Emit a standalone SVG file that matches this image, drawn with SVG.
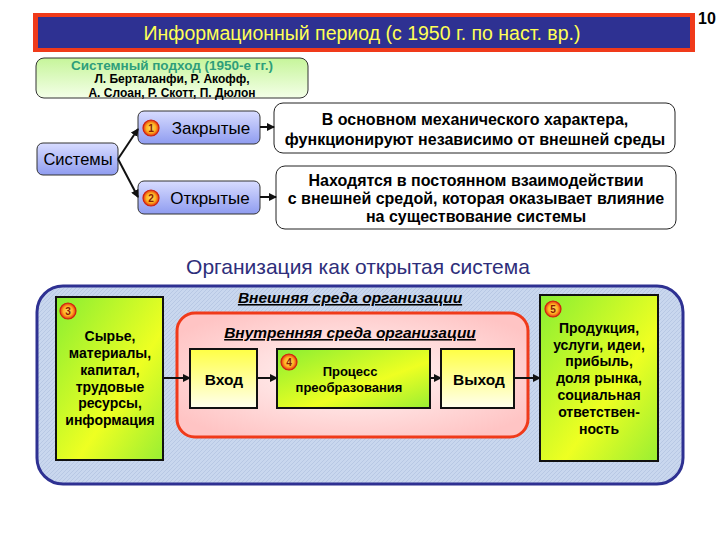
<svg xmlns="http://www.w3.org/2000/svg" width="720" height="540" viewBox="0 0 720 540">
<defs>
<linearGradient id="gGreenTop" x1="0" y1="0" x2="0" y2="1"><stop offset="0" stop-color="#C6F59A"/><stop offset="1" stop-color="#F4FFE8"/></linearGradient>
<linearGradient id="gBlue" x1="0" y1="0" x2="0" y2="1"><stop offset="0" stop-color="#D8DCFF"/><stop offset="1" stop-color="#8F9CF0"/></linearGradient>
<linearGradient id="gYW" x1="0" y1="0" x2="0" y2="1"><stop offset="0" stop-color="#FFFF44"/><stop offset="1" stop-color="#FFFFEE"/></linearGradient>
<linearGradient id="gGYh" x1="0" y1="0" x2="1" y2="1"><stop offset="0" stop-color="#88EE33"/><stop offset="0.6" stop-color="#EEFF22"/><stop offset="1" stop-color="#99EE33"/></linearGradient>
<radialGradient id="gPink" cx="0.5" cy="0.5" r="0.6"><stop offset="0" stop-color="#FFF8F8"/><stop offset="1" stop-color="#FFC4C4"/></radialGradient>
<radialGradient id="gBadge" cx="0.5" cy="0.5" r="0.5"><stop offset="0" stop-color="#FFE066"/><stop offset="0.6" stop-color="#FFB020"/><stop offset="1" stop-color="#E03010"/></radialGradient>
<pattern id="hatch" width="4" height="4" patternUnits="userSpaceOnUse"><rect width="4" height="4" fill="#C9D7EE"/><path d="M0 4L4 0" stroke="#B8C8E4" stroke-width="1"/></pattern>
<marker id="arr" markerWidth="8" markerHeight="8" refX="7" refY="4" orient="auto" markerUnits="userSpaceOnUse"><path d="M0 0L8 4L0 8Z" fill="#111"/></marker>
</defs>
<style>
text{font-family:"Liberation Sans",Arial,sans-serif;fill:#000}
.b{font-weight:bold}
.t13{font-size:16px;font-weight:bold;text-anchor:middle}
.t12{font-size:14px;font-weight:bold;text-anchor:middle}
.badge{fill:url(#gBadge);stroke:#D02010;stroke-width:1.2}
.bn{font-size:10px;font-weight:bold;text-anchor:middle;fill:#8A2000}
.conn{stroke:#111;stroke-width:2;fill:none;marker-end:url(#arr)}
.ital{font-size:15.5px;font-weight:bold;font-style:italic;text-anchor:middle;text-decoration:underline}
</style>
<rect width="720" height="540" fill="#FFFFFF"/>
<text x="707" y="24" class="b" font-size="16" text-anchor="middle">10</text>

<g id="title">
<rect x="33" y="13" width="662" height="39" fill="#F03A1A"/>
<rect x="38" y="17" width="652" height="31" fill="#2E3192"/>
<text x="362" y="40" font-size="19.5" text-anchor="middle" style="fill:#FFFF55">Информационный период (с 1950 г. по наст. вр.)</text>
</g>

<g id="approach">
<rect x="36" y="58" width="272" height="40" rx="8" fill="url(#gGreenTop)" stroke="#333" stroke-width="1"/>
<text x="172" y="70" class="b" font-size="13.5" text-anchor="middle" style="fill:#2E9E7A">Системный подход (1950-е гг.)</text>
<text x="172" y="83" class="b" font-size="12" text-anchor="middle">Л. Берталанфи, Р. Акофф,</text>
<text x="172" y="97" class="b" font-size="12" text-anchor="middle">А. Слоан, Р. Скотт, П. Дюлон</text>
</g>

<g id="systems">
<rect x="37" y="143" width="81" height="32" rx="6" fill="url(#gBlue)" stroke="#333" stroke-width="1"/>
<text x="78" y="165" font-size="16.5" text-anchor="middle">Системы</text>
</g>
<g id="closed">
<rect x="138" y="111" width="122" height="33" rx="6" fill="url(#gBlue)" stroke="#333" stroke-width="1"/>
<circle cx="151" cy="128" r="8" class="badge"/><text x="151" y="132" class="bn">1</text>
<text x="211" y="134" font-size="17" text-anchor="middle">Закрытые</text>
</g>
<g id="open">
<rect x="138" y="181" width="122" height="33" rx="6" fill="url(#gBlue)" stroke="#333" stroke-width="1"/>
<circle cx="151" cy="198" r="8" class="badge"/><text x="151" y="202" class="bn">2</text>
<text x="210" y="204" font-size="17" text-anchor="middle">Открытые</text>
</g>
<g id="desc1">
<rect x="274" y="103" width="401" height="50" rx="9" fill="#FFFFFF" stroke="#222" stroke-width="1"/>
<text x="475" y="125" class="t13">В основном механического характера,</text>
<text x="475" y="145" class="t13">функционируют независимо от внешней среды</text>
</g>
<g id="desc2">
<rect x="276" y="166" width="400" height="63" rx="9" fill="#FFFFFF" stroke="#222" stroke-width="1"/>
<text x="476" y="186" class="t13">Находятся в постоянном взаимодействии</text>
<text x="476" y="204" class="t13">с внешней средой, которая оказывает влияние</text>
<text x="476" y="222" class="t13">на существование системы</text>
</g>

<text x="358" y="274" font-size="21" text-anchor="middle" style="fill:#2E2E7A">Организация как открытая система</text>

<g id="external">
<rect x="37" y="286" width="646" height="198" rx="26" fill="url(#hatch)" stroke="#2E3192" stroke-width="3"/>
<text x="350" y="303" class="ital">Внешняя среда организации</text>
</g>
<g id="internal">
<rect x="177" y="313" width="351" height="124" rx="18" fill="url(#gPink)" stroke="#F03A1A" stroke-width="3"/>
<text x="350" y="338" class="ital">Внутренняя среда организации</text>
</g>
<g id="inputs">
<rect x="56" y="297" width="107" height="163" fill="url(#gGYh)" stroke="#111" stroke-width="2"/>
<circle cx="68" cy="311" r="8" class="badge"/><text x="68" y="315" class="bn">3</text>
<text x="110" y="341" class="t12">Сырье,</text>
<text x="110" y="358" class="t12">материалы,</text>
<text x="110" y="375" class="t12">капитал,</text>
<text x="110" y="392" class="t12">трудовые</text>
<text x="110" y="408" class="t12">ресурсы,</text>
<text x="110" y="425" class="t12">информация</text>
</g>
<g id="in">
<rect x="190" y="349" width="67" height="59" fill="url(#gYW)" stroke="#111" stroke-width="2"/>
<text x="224" y="385" font-size="15.5" class="b" text-anchor="middle">Вход</text>
</g>
<g id="process">
<rect x="277" y="349" width="153" height="59" fill="url(#gGYh)" stroke="#111" stroke-width="2"/>
<circle cx="289" cy="362" r="8" class="badge"/><text x="289" y="366" class="bn">4</text>
<text x="350" y="376" font-size="13" class="b" text-anchor="middle">Процесс</text>
<text x="349" y="392" font-size="13" class="b" text-anchor="middle">преобразования</text>
</g>
<g id="out">
<rect x="441" y="349" width="73" height="59" fill="url(#gYW)" stroke="#111" stroke-width="2"/>
<text x="479" y="385" font-size="15.5" class="b" text-anchor="middle">Выход</text>
</g>
<g id="outputs">
<rect x="540" y="295" width="118" height="166" fill="url(#gGYh)" stroke="#111" stroke-width="2"/>
<circle cx="553" cy="309" r="8" class="badge"/><text x="553" y="313" class="bn">5</text>
<text x="599" y="333" class="t12">Продукция,</text>
<text x="599" y="350" class="t12">услуги, идеи,</text>
<text x="599" y="366" class="t12">прибыль,</text>
<text x="599" y="383" class="t12">доля рынка,</text>
<text x="599" y="400" class="t12">социальная</text>
<text x="599" y="417" class="t12">ответствен-</text>
<text x="599" y="434" class="t12">ность</text>
</g>

<g id="connectors">
<path class="conn" d="M118 159L138 129"/>
<path class="conn" d="M118 159L138 197"/>
<path class="conn" d="M260 127L274 127"/>
<path class="conn" d="M260 197L276 197"/>
<path class="conn" d="M163 378L190 378"/>
<path class="conn" d="M257 378L277 378"/>
<path class="conn" d="M430 378L441 378"/>
<path class="conn" d="M514 378L540 378"/>
</g>
</svg>
